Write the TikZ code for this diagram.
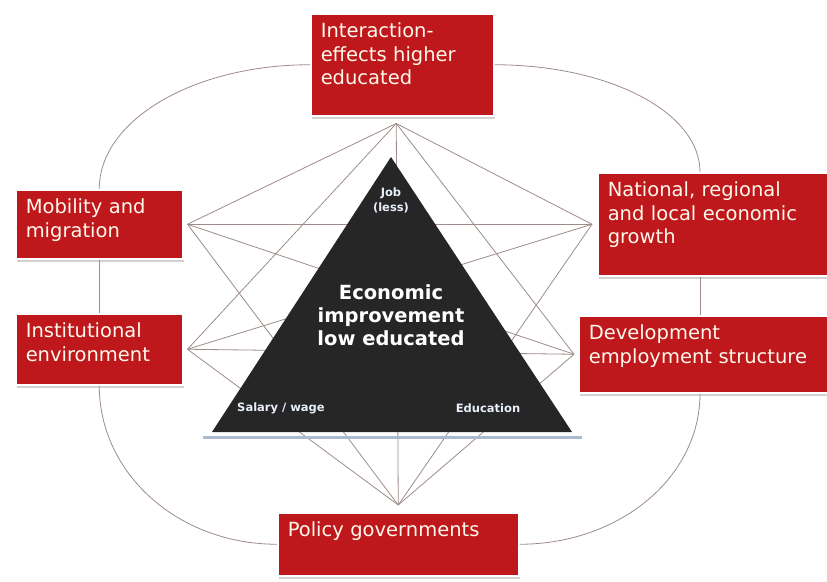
\documentclass[tikz,border=0pt]{standalone}
\usepackage{fontspec}
\setmainfont{DejaVu Sans}
\usepackage{tikz}
\usetikzlibrary{shadows}

\definecolor{boxred}{RGB}{190,24,28}
\definecolor{boxtext}{RGB}{255,248,236}
\definecolor{linkgray}{RGB}{158,140,136}
\definecolor{tridark}{RGB}{38,38,38}
\definecolor{trishade}{RGB}{172,186,206}
\definecolor{trilabel}{RGB}{232,238,250}

\begin{document}
\begin{tikzpicture}[x=1pt,y=-1pt,
     factor/.style={rectangle,anchor=north west,fill=boxred,draw=white,line width=1.5pt,
       drop shadow={shadow xshift=1pt,shadow yshift=-3pt,fill=black!35},
       text=boxtext,font=\fontsize{19.5}{23.5}\selectfont,align=left,
       inner xsep=10pt,inner ysep=9pt,text height=15pt},
     link/.style={color=linkgray,line width=0.8pt},
     core/.style={text=white,font=\fontsize{19.5}{23}\selectfont\bfseries,align=center},
     corner/.style={text=trilabel,font=\fontsize{11.5}{15}\selectfont\bfseries,align=center}]
     \useasboundingbox[fill=white] (0,0) rectangle (827,581);
     \node[factor,text width=163pt,text depth=69pt] (inter)   at (310,13)  {Interaction-\\effects higher\\educated};
     \node[factor,text width=147pt,text depth=36pt] (mobil)   at (15,189)  {Mobility and\\migration};
     \node[factor,text width=147pt,text depth=38pt] (instit)  at (15,313)  {Institutional\\environment};
     \node[factor,text width=215pt,text depth=70pt] (nation)  at (597,172) {National, regional\\and local economic\\growth};
     \node[factor,text width=234pt,text depth=44pt] (develop) at (578,315) {Development\\employment structure};
     \node[factor,text width=221pt,text depth=30pt] (policy)  at (277,512) {Policy governments};
     \coordinate (rcol) at (700,0);
     \coordinate (inter_p)   at ([xshift=-6pt,yshift=-7pt]inter.south);
     \coordinate (mobil_p)   at ([xshift=4pt]mobil.east);
     \coordinate (instit_p)  at ([xshift=4pt]instit.east);
     \coordinate (nation_p)  at ([xshift=-5pt]nation.west);
     \coordinate (develop_p) at ([xshift=-4pt]develop.west);
     \coordinate (policy_p)  at ([yshift=7pt]policy.north);
     \draw[link] (inter.west) .. controls +(-116,0) and +(0,-69) .. (mobil.north);
     \draw[link] (inter.east) .. controls +(114,0) and +(0,-60) .. (nation.north -| rcol);
     \draw[link] (mobil.south) -- (instit.north);
     \draw[link] (nation.south -| rcol) -- (develop.north -| rcol);
     \draw[link] (instit.south) .. controls +(0,88) and +(-99,0) .. (policy.west);
     \draw[link] (develop.south -| rcol) .. controls +(0,84) and +(100,0) .. (policy.east);
     \path[link]
      (inter_p) edge (mobil_p) edge (instit_p) edge (nation_p) edge (develop_p) edge (policy_p)
      (mobil_p) edge (nation_p) edge (develop_p) edge (policy_p)
      (instit_p) edge (nation_p) edge (develop_p) edge (policy_p)
      (nation_p) edge (policy_p)
      (develop_p) edge (policy_p);
     \fill[tridark] (391,157) -- (572,432) -- (212,432) -- cycle;
     \draw[trishade,line width=2.5pt] (203,437.5) -- (582,437.5);
     \node[core] (goal) at (391,315) {Economic\\improvement\\low educated};
     \node[corner] (job) at (391,200) {Job\\(less)};
     \node[corner] (salary) at (281,408) {Salary / wage};
     \node[corner] (edu) at (488,408) {Education};
\end{tikzpicture}
\end{document}
